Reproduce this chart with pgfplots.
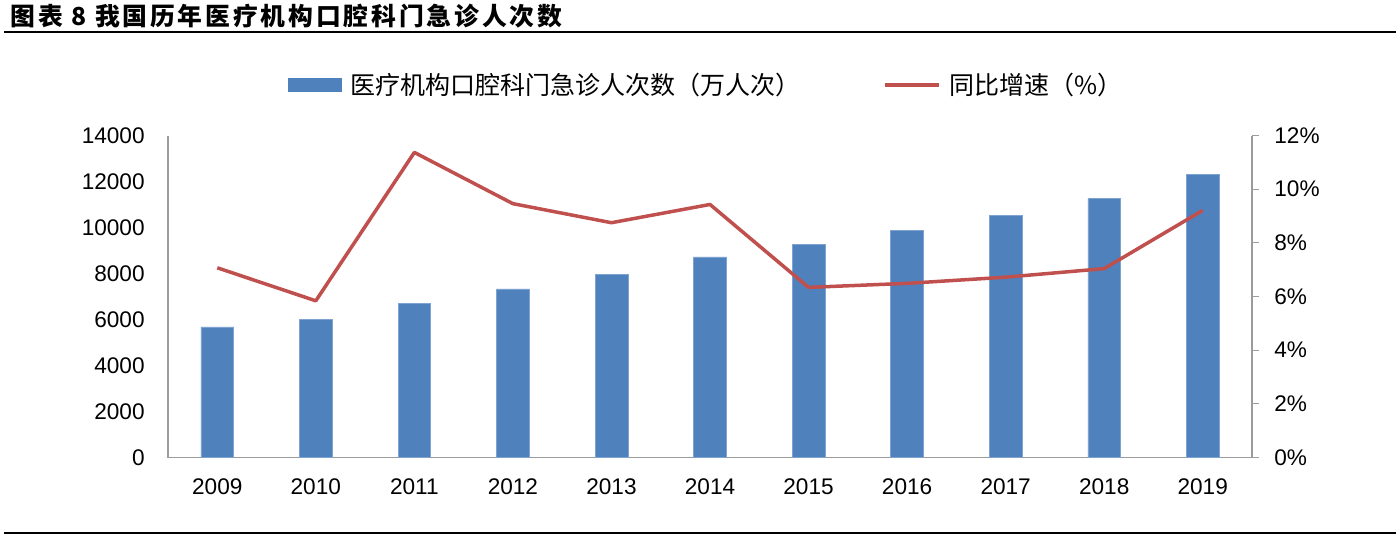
\documentclass[border=0pt]{standalone}
\usepackage{fontspec}
\setmainfont{Liberation Sans}
\newfontfamily\cjk{Noto Sans CJK SC}
\newfontfamily\cjktitle{Noto Sans CJK SC}[LetterSpace=11.5]
\usepackage{pgfplots}
\pgfplotsset{compat=1.18}
\definecolor{barblue}{HTML}{4F81BD}
\definecolor{baredge}{HTML}{7FA3D1}
\definecolor{lred}{HTML}{C0504D}
\definecolor{axgray}{HTML}{9C9C9C}

\begin{document}
\begin{tikzpicture}
\useasboundingbox (0pt,0pt) rectangle (698pt,269pt);
% title and rules
\node[anchor=base west, inner sep=0pt, font=\cjktitle\bfseries\fontsize{12.4pt}{14pt}\selectfont]
  at (5pt,256.3pt) {图表 8 我国历年医疗机构口腔科门急诊人次数};
\draw[line width=1pt] (2pt,252.85pt) -- (698pt,252.85pt);
\draw[line width=1.2pt] (2pt,2.65pt) -- (698pt,2.65pt);

% bars, left axis
\begin{axis}[
    at={(84pt,40.25pt)}, anchor=south west,
    scale only axis, width=542pt, height=161pt,
    xmin=-0.5, xmax=10.5, ymin=0, ymax=14000,
    axis x line*=bottom, axis y line*=left,
    axis line style={draw=axgray, line width=0.65pt, -},
    major tick length=0pt,
    xtick={0,1,2,3,4,5,6,7,8,9,10},
    xticklabels={2009,2010,2011,2012,2013,2014,2015,2016,2017,2018,2019},
    ytick={0,2000,4000,6000,8000,10000,12000,14000},
    scaled y ticks=false,
    /pgf/number format/1000 sep={},
    /pgf/number format/assume math mode=true,
    tick label style={font=\fontsize{11.3pt}{13pt}\selectfont},
    xticklabel style={anchor=base, inner sep=0pt, yshift=-18.25pt},
    yticklabel style={anchor=east, inner sep=0pt, xshift=-11.5pt},
]
\addplot[ybar, bar width=16.35pt, fill=barblue, draw=baredge, line width=0.3pt]
    coordinates {
    (0, 5683) (1, 6017) (2, 6698) (3, 7331) (4, 7969) (5, 8720)
    (6, 9257) (7, 9865) (8, 10515) (9, 11253) (10, 12294)
    };
\end{axis}

% growth line, right axis
\begin{axis}[
    at={(84pt,40.25pt)}, anchor=south west,
    scale only axis, width=542pt, height=161pt,
    xmin=-0.5, xmax=10.5, ymin=0, ymax=12,
    axis x line=none, axis y line*=right,
    axis line style={draw=axgray, line width=0.65pt, -},
    tick align=outside, major tick length=3.5pt,
    tick style={draw=axgray, line width=0.65pt},
    ytick={0,2,4,6,8,10,12},
    yticklabel={\pgfmathprintnumber{\tick}\%},
    /pgf/number format/assume math mode=true,
    tick label style={font=\fontsize{11.3pt}{13pt}\selectfont},
    yticklabel style={anchor=west, inner sep=0pt, xshift=7.5pt},
    legend columns=2,
    legend style={at={(0.1107,1.157)}, anchor=west, draw=none, fill=none,
        inner sep=0pt, outer sep=0pt, nodes={inner sep=0pt},
        font=\cjk\fontsize{12.5pt}{14pt}\selectfont,
        /tikz/every odd column/.append style={column sep=4.5pt},
        /tikz/every even column/.append style={column sep=41pt}},
]
\addlegendimage{legend image code/.code={\fill[barblue] (0pt,-3.25pt) rectangle (26.5pt,3.25pt);}}
\addlegendentry{医疗机构口腔科门急诊人次数（万人次）}
\addplot[lred, line width=1.75pt, line join=round, no marks,
    legend image code/.code={\draw[lred, line width=1.75pt] (0pt,0pt) -- (27pt,0pt);}]
    coordinates {
    (0, 7.07) (1, 5.84) (2, 11.37) (3, 9.46) (4, 8.75) (5, 9.43)
    (6, 6.34) (7, 6.49) (8, 6.72) (9, 7.04) (10, 9.21)
    };
\addlegendentry{同比增速（\%）}
\end{axis}
\end{tikzpicture}
\end{document}
